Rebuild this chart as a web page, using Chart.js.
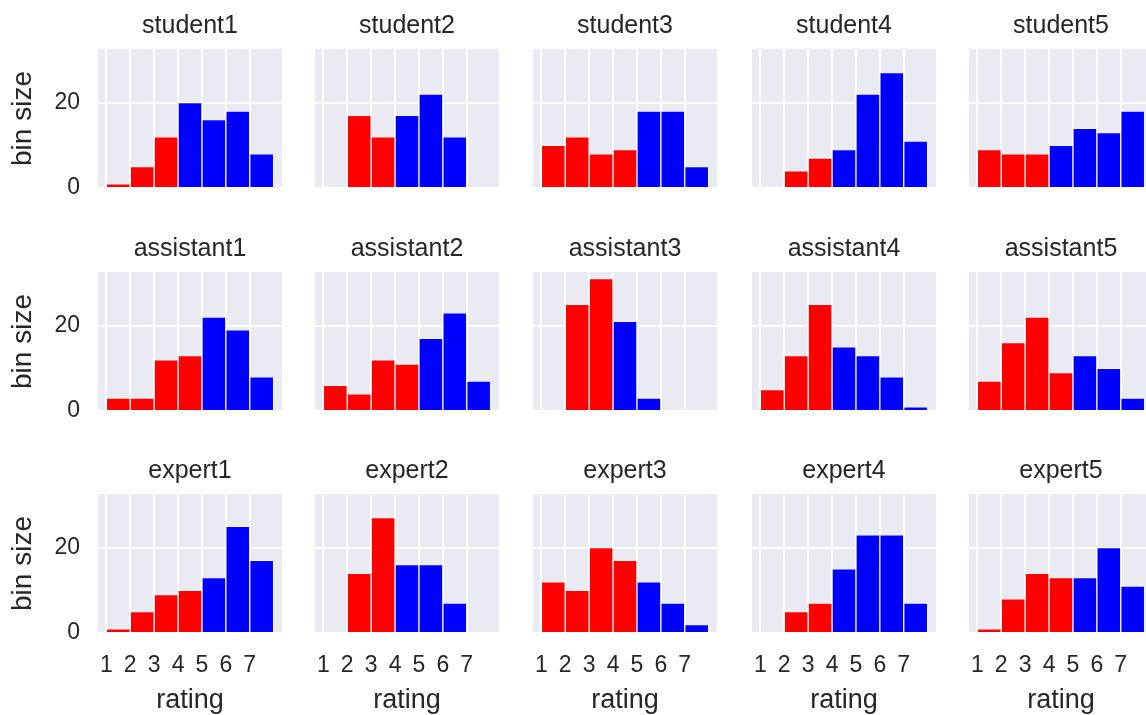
<!DOCTYPE html>
<html>
<head>
<meta charset="utf-8">
<script src="https://cdn.jsdelivr.net/npm/chart.js@4"></script>
<style>
  html, body { margin: 0; padding: 0; background: #fff; overflow: hidden; }
  #grid { position: relative; width: 1146px; height: 715px; overflow: hidden; }
  #grid canvas { position: absolute; }
</style>
</head>
<body>
<div id="grid"></div>
<script>
// histogram bins: [1,2), [2,3), ... [7,8]
const binStarts = [1, 2, 3, 4, 5, 6, 7];
const xTicks = [1, 2, 3, 4, 5, 6, 7];
const yTicks = [0, 20];

const raters = [
  "student1", "student2", "student3", "student4", "student5",
  "assistant1", "assistant2", "assistant3", "assistant4", "assistant5",
  "expert1", "expert2", "expert3", "expert4", "expert5",
];

const student1 = [1, 5, 12, 20, 16, 18, 8];
const student2 = [0, 17, 12, 17, 22, 12, 0];
const student3 = [10, 12, 8, 9, 18, 18, 5];
const student4 = [0, 4, 7, 9, 22, 27, 11];
const student5 = [9, 8, 8, 10, 14, 13, 18];
const assistant1 = [3, 3, 12, 13, 22, 19, 8];
const assistant2 = [6, 4, 12, 11, 17, 23, 7];
const assistant3 = [0, 25, 31, 21, 3, 0, 0];
const assistant4 = [5, 13, 25, 15, 13, 8, 1];
const assistant5 = [7, 16, 22, 9, 13, 10, 3];
const expert1 = [1, 5, 9, 10, 13, 25, 17];
const expert2 = [0, 14, 27, 16, 16, 7, 0];
const expert3 = [12, 10, 20, 17, 12, 7, 2];
const expert4 = [0, 5, 7, 15, 23, 23, 7];
const expert5 = [1, 8, 14, 13, 13, 20, 11];

const counts = [
  student1, student2, student3, student4, student5,
  assistant1, assistant2, assistant3, assistant4, assistant5,
  expert1, expert2, expert3, expert4, expert5,
];

// bins starting below this rating are drawn red, the rest blue
const lowBelow = [4, 4, 5, 4, 4, 5, 5, 4, 4, 5, 5, 4, 5, 4, 5];

const RED = "#ff0000";
const BLUE = "#0000ff";
const TEXT = "#262626";

// layout of the 3x5 grid (plot areas)
const colLeft = [98, 315, 533, 752, 969];
const rowTop = [49, 272, 494];
const plotW = 184;
const plotH = 139;
const titleH = 49;

Chart.defaults.font.family = "'Liberation Sans', Arial, sans-serif";
Chart.defaults.color = TEXT;

const plotBg = {
  id: "plotBg",
  beforeDraw(chart) {
    const { ctx, chartArea: a } = chart;
    ctx.save();
    ctx.fillStyle = "#eaeaf2";
    ctx.fillRect(a.left, a.top, a.right - a.left, a.bottom - a.top);
    ctx.restore();
  },
};

function makePanel(i) {
  const row = Math.floor(i / 5);
  const col = i % 5;
  const first = col === 0;
  const last = row === 2;
  // margins leave room for the label overflow Chart.js reserves
  const left = first ? 98 : 40;
  const bottom = last ? 90 : 40;

  const canvas = document.createElement("canvas");
  canvas.width = left + plotW + 2;
  canvas.height = titleH + plotH + bottom;
  canvas.style.left = colLeft[col] - left + "px";
  canvas.style.top = rowTop[row] - titleH + "px";
  document.getElementById("grid").appendChild(canvas);

  const data = counts[i];
  new Chart(canvas, {
    type: "bar",
    data: {
      datasets: [
        {
          data: binStarts.map((b, k) => ({ x: b + 0.5, y: data[k] })),
          backgroundColor: binStarts.map((b) => (b < lowBelow[i] ? RED : BLUE)),
          borderColor: "rgba(255,255,255,0.55)",
          borderWidth: 1,
          barPercentage: 1,
          categoryPercentage: 1,
        },
      ],
    },
    options: {
      responsive: false,
      animation: false,
      devicePixelRatio: 1,
      layout: { padding: { left: 0, right: 2, top: 0, bottom: 0 } },
      plugins: { legend: { display: false }, tooltip: { enabled: false } },
      scales: {
        x: {
          type: "linear",
          min: 0.65,
          max: 8.35,
          offset: false,
          afterBuildTicks: (s) => { s.ticks = xTicks.map((v) => ({ value: v })); },
          afterFit: (s) => { s.height = bottom; },
          grid: { color: "#ffffff", lineWidth: 2, drawTicks: false, offset: false },
          border: { display: false },
          ticks: { display: last, padding: 19, font: { size: 23 }, color: TEXT },
          title: { display: last, text: "rating", font: { size: 27 }, color: TEXT, padding: { top: 0, bottom: 6 } },
        },
        x2: {
          type: "linear",
          position: "top",
          afterFit: (s) => { s.height = titleH; },
          grid: { display: false, drawTicks: false },
          border: { display: false },
          ticks: { display: false },
          title: { display: true, text: raters[i], font: { size: 25 }, color: TEXT, padding: { top: 11, bottom: 0 } },
        },
        y: {
          min: 0,
          max: 32.55,
          afterBuildTicks: (s) => { s.ticks = yTicks.map((v) => ({ value: v })); },
          afterFit: (s) => { s.width = left; },
          grid: { color: "#ffffff", lineWidth: 2, drawTicks: false },
          border: { display: false },
          ticks: { display: first, padding: 18, font: { size: 23 }, color: TEXT },
          title: { display: first, text: "bin size", font: { size: 28 }, color: TEXT, padding: { top: 6, bottom: 0 } },
        },
      },
    },
    plugins: [plotBg],
  });
}

raters.forEach((_, i) => makePanel(i));
</script>
</body>
</html>
